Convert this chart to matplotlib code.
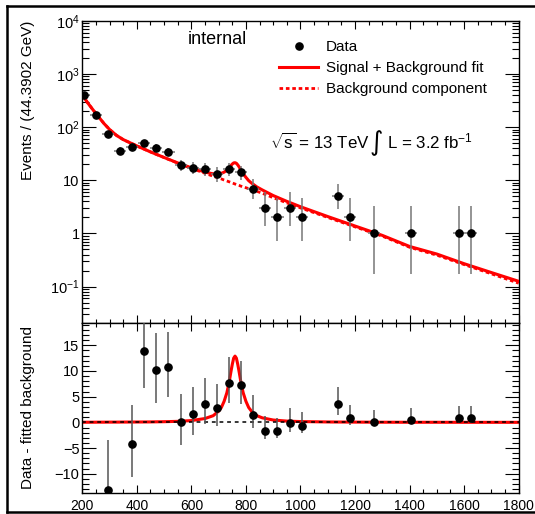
import numpy as np
import matplotlib
matplotlib.use('Agg')
import matplotlib.pyplot as plt
from matplotlib.lines import Line2D
from matplotlib.ticker import FixedLocator, MultipleLocator, LogLocator, NullFormatter

plt.rcParams['font.family'] = ['Liberation Sans', 'DejaVu Sans']
plt.rcParams['mathtext.fontset'] = 'custom'
plt.rcParams['mathtext.rm'] = 'Liberation Sans'
plt.rcParams['mathtext.it'] = 'Liberation Sans:italic'

# data points (bin centres, counts, poisson errors)
x_centers = [205.4, 249.8, 294.2, 338.6, 383.0, 427.4, 471.7, 516.1, 560.5, 604.9,
             649.3, 693.7, 738.1, 782.5, 826.9, 871.3, 915.7, 960.1, 1004.5, 1137.6,
             1182.0, 1270.8, 1404.0, 1581.5, 1625.9]
counts = [396, 171, 73, 36, 42, 50, 40, 34, 19, 17, 16, 13, 16, 14, 7, 3, 2, 3, 2, 5,
          2, 1, 1, 1, 1]
err_lo = [19.9, 13.1, 8.52, 5.98, 6.46, 7.04, 6.32, 5.81, 4.32, 4.08, 3.96, 3.58, 3.96,
          3.71, 2.58, 1.63, 1.29, 1.63, 1.29, 2.16, 1.29, 0.83, 0.83, 0.83, 0.83]
err_hi = [20.9, 14.1, 9.58, 7.07, 7.54, 8.11, 7.39, 6.90, 5.48, 5.23, 5.10, 4.67, 5.10,
          4.83, 3.77, 2.92, 2.64, 2.92, 2.64, 3.38, 2.64, 2.30, 2.30, 2.30, 2.30]
bin_width = 44.3902

# data - fitted background (nan = off scale)
resid = [np.nan, np.nan, -13.1, np.nan, -4.2, 13.8, 10.1, 10.7, 0.0, 1.6, 3.6, 2.8, 7.7,
         7.2, 1.5, -1.6, -1.75, -0.2, -0.7, 3.6, 0.8, 0.1, 0.5, 0.8, 0.8]

# fit curves
curve_x = [200, 220, 240, 260, 280, 300, 325, 350, 400, 450,
           500, 550, 600, 650, 680, 700, 710, 720, 730, 735,
           740, 745, 750, 755, 760, 765, 770, 775, 780, 785,
           790, 800, 810, 820, 840, 860, 900, 950, 1000, 1100,
           1200, 1300, 1400, 1500, 1600, 1700, 1800]
bkg_curve = [398, 285, 209, 155, 116, 90.2, 70, 58.2, 44.2, 34.1,
             26.7, 21.0, 16.8, 13.5, 11.9, 11.0, 10.6, 10.1, 9.7, 9.5,
             9.3, 9.1, 8.9, 8.7, 8.5, 8.35, 8.15, 8.0, 7.8, 7.65,
             7.5, 7.24, 6.95, 6.7, 6.2, 5.7, 4.7, 3.76, 3.02, 2.0,
             1.33, 0.89, 0.55, 0.39, 0.26, 0.174, 0.116]
sig_curve = [0.02, 0.03, 0.03, 0.04, 0.04, 0.05, 0.05, 0.06, 0.07, 0.09,
             0.13, 0.2, 0.35, 0.75, 1.3, 2.2, 2.9, 4.1, 5.75, 6.95,
             8.3, 9.85, 11.3, 12.5, 12.9, 12.5, 11.3, 9.85, 8.3, 6.95,
             5.75, 4.1, 2.9, 2.2, 1.3, 0.88, 0.46, 0.25, 0.16, 0.08,
             0.05, 0.03, 0.02, 0.02, 0.01, 0.01, 0.01]

top_yticks = [0.1, 1, 10, 100, 1000, 10000]
top_ylabels = ['$10^{-1}$', '1', '10', '$10^{2}$', '$10^{3}$', '$10^{4}$']

x = np.array(x_centers)
n = np.array(counts, dtype=float)
bkg = np.array(bkg_curve)
sig = np.array(sig_curve)
cx = np.array(curve_x)

fig = plt.figure(figsize=(5.35, 5.14), dpi=100)
ax1 = fig.add_axes([0.1538, 0.3722, 0.8157, 0.5875])
ax2 = fig.add_axes([0.1538, 0.0403, 0.8157, 0.3319], sharex=ax1)

dots = (0, (1.3, 1.0))
# top panel
ax1.plot(cx, bkg, color='red', lw=2, ls=dots, zorder=2)
ax1.plot(cx, bkg + sig, color='red', lw=2.2, zorder=3)
ax1.errorbar(x, n, yerr=[err_lo, err_hi], xerr=bin_width / 2, fmt='none',
             ecolor='#777777', elinewidth=1.1, capsize=0, zorder=4)
ax1.plot(x, n, 'o', color='black', ms=5.2, zorder=5)
ax1.set_yscale('log')
ax1.set_xlim(200, 1800)
ax1.set_ylim(0.021, 10000)
ax1.yaxis.set_major_locator(FixedLocator(top_yticks))
ax1.set_yticklabels(top_ylabels)
ax1.yaxis.set_minor_locator(LogLocator(base=10, subs=np.arange(2, 10), numticks=20))
ax1.yaxis.set_minor_formatter(NullFormatter())
ax1.tick_params(axis='x', labelbottom=False)

leg_h = [Line2D([], [], marker='o', color='black', ls='none', ms=5.2),
         Line2D([], [], color='red', lw=2.2),
         Line2D([], [], color='red', lw=2, ls=dots)]
ax1.legend(leg_h, ['Data', 'Signal + Background fit', 'Background component'],
           loc='upper left', bbox_to_anchor=(0.45, 0.935), frameon=False, fontsize=11,
           handlelength=2.6, handletextpad=0.5, labelspacing=0.45, borderpad=0,
           borderaxespad=0)
ax1.text(0.242, 0.939, 'internal', transform=ax1.transAxes, fontsize=13, va='center')

# energy / luminosity label, the integral sign drawn larger like in ROOT
fig.canvas.draw()
rend = fig.canvas.get_renderer()
t1 = ax1.text(0.43, 0.60, r'$\sqrt{\rm s}$ = 13 TeV ', transform=ax1.transAxes,
              fontsize=12.2, va='center')
bb = t1.get_window_extent(rend).transformed(ax1.transAxes.inverted())
t2 = ax1.text(bb.x1, 0.595, '\u222b', transform=ax1.transAxes, fontsize=18.5, va='center',
              family='DejaVu Sans')
bb2 = t2.get_window_extent(rend).transformed(ax1.transAxes.inverted())
ax1.text(bb2.x1 + 0.008, 0.60, 'L = 3.2 fb$^{-1}$', transform=ax1.transAxes,
         fontsize=12.2, va='center')

ax1.set_ylabel('Events / (44.3902 GeV)', fontsize=11, loc='top')
ax1.yaxis.set_label_coords(-0.108, 1.0)

# bottom panel
ax2.plot(cx, sig, color='red', lw=2.2, zorder=2)
ax2.axhline(0, color='black', lw=1.1, ls=(0, (2.5, 2.5)), zorder=3)
ax2.errorbar(x, resid, yerr=[err_lo, err_hi], fmt='none', ecolor='#555555',
             elinewidth=1.1, capsize=0, zorder=4)
ax2.plot(x, resid, 'o', color='black', ms=5.2, zorder=5)
ax2.set_ylim(-13.8, 19.4)
ax2.yaxis.set_major_locator(MultipleLocator(5))
ax2.yaxis.set_minor_locator(MultipleLocator(1))
ax2.xaxis.set_major_locator(MultipleLocator(200))
ax2.xaxis.set_minor_locator(MultipleLocator(50))
ax2.set_ylabel('Data - fitted background', fontsize=11)
ax2.yaxis.set_label_coords(-0.108, 0.5)

for ax in (ax1, ax2):
    ax.tick_params(which='both', direction='in', top=True, right=True, width=0.8)
    ax.tick_params(axis='y', which='major', length=10, labelsize=10.5, pad=2)
    ax.tick_params(axis='y', which='minor', length=5)
    ax.tick_params(axis='x', which='major', length=6, labelsize=10, pad=4)
    ax.tick_params(axis='x', which='minor', length=3)
    for s in ax.spines.values():
        s.set_linewidth(1.0)

# outer frame of the screenshot
fl = 1.8
fig.add_artist(Line2D([7 / 535, 7 / 535], [1 - 511.5 / 514, 1 - 6 / 514], color='black', lw=fl))
fig.add_artist(Line2D([7 / 535, 1.0], [1 - 6 / 514, 1 - 6 / 514], color='black', lw=fl))
fig.add_artist(Line2D([7 / 535, 1.0], [1 - 511.5 / 514, 1 - 511.5 / 514], color='black', lw=fl))

fig.savefig('out.png', dpi=100)
